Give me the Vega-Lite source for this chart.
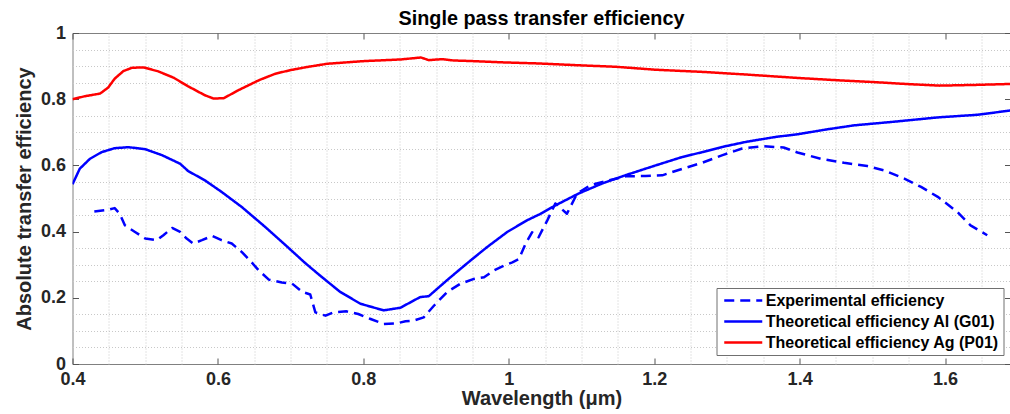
{
  "$schema": "https://vega.github.io/schema/vega-lite/v6.json",
  "width": 938,
  "height": 331,
  "autosize": {"type": "none"},
  "padding": {"left": 72.5, "top": 33, "right": 0, "bottom": 50},
  "background": "white",
  "title": {
    "text": "Single pass transfer efficiency",
    "font": "Liberation Sans",
    "fontSize": 19.8,
    "fontWeight": "bold",
    "color": "#000000",
    "anchor": "middle",
    "baseline": "alphabetic",
    "offset": 7,
    "dy": 28
  },
  "data": {
    "values": [
      {"series": "Experimental efficiency", "x": 0.430, "y": 0.461},
      {"series": "Experimental efficiency", "x": 0.449, "y": 0.466},
      {"series": "Experimental efficiency", "x": 0.458, "y": 0.471},
      {"series": "Experimental efficiency", "x": 0.465, "y": 0.454},
      {"series": "Experimental efficiency", "x": 0.472, "y": 0.419},
      {"series": "Experimental efficiency", "x": 0.486, "y": 0.399},
      {"series": "Experimental efficiency", "x": 0.500, "y": 0.379},
      {"series": "Experimental efficiency", "x": 0.516, "y": 0.374},
      {"series": "Experimental efficiency", "x": 0.525, "y": 0.389},
      {"series": "Experimental efficiency", "x": 0.537, "y": 0.411},
      {"series": "Experimental efficiency", "x": 0.548, "y": 0.399},
      {"series": "Experimental efficiency", "x": 0.557, "y": 0.379},
      {"series": "Experimental efficiency", "x": 0.566, "y": 0.364},
      {"series": "Experimental efficiency", "x": 0.578, "y": 0.374},
      {"series": "Experimental efficiency", "x": 0.592, "y": 0.387},
      {"series": "Experimental efficiency", "x": 0.605, "y": 0.374},
      {"series": "Experimental efficiency", "x": 0.619, "y": 0.364},
      {"series": "Experimental efficiency", "x": 0.633, "y": 0.338},
      {"series": "Experimental efficiency", "x": 0.644, "y": 0.313},
      {"series": "Experimental efficiency", "x": 0.656, "y": 0.283},
      {"series": "Experimental efficiency", "x": 0.670, "y": 0.255},
      {"series": "Experimental efficiency", "x": 0.688, "y": 0.246},
      {"series": "Experimental efficiency", "x": 0.702, "y": 0.243},
      {"series": "Experimental efficiency", "x": 0.716, "y": 0.218},
      {"series": "Experimental efficiency", "x": 0.727, "y": 0.210},
      {"series": "Experimental efficiency", "x": 0.734, "y": 0.156},
      {"series": "Experimental efficiency", "x": 0.748, "y": 0.146},
      {"series": "Experimental efficiency", "x": 0.759, "y": 0.156},
      {"series": "Experimental efficiency", "x": 0.777, "y": 0.159},
      {"series": "Experimental efficiency", "x": 0.793, "y": 0.151},
      {"series": "Experimental efficiency", "x": 0.810, "y": 0.136},
      {"series": "Experimental efficiency", "x": 0.828, "y": 0.121},
      {"series": "Experimental efficiency", "x": 0.846, "y": 0.123},
      {"series": "Experimental efficiency", "x": 0.858, "y": 0.129},
      {"series": "Experimental efficiency", "x": 0.869, "y": 0.131},
      {"series": "Experimental efficiency", "x": 0.883, "y": 0.141},
      {"series": "Experimental efficiency", "x": 0.897, "y": 0.176},
      {"series": "Experimental efficiency", "x": 0.915, "y": 0.217},
      {"series": "Experimental efficiency", "x": 0.933, "y": 0.242},
      {"series": "Experimental efficiency", "x": 0.952, "y": 0.257},
      {"series": "Experimental efficiency", "x": 0.966, "y": 0.262},
      {"series": "Experimental efficiency", "x": 0.979, "y": 0.282},
      {"series": "Experimental efficiency", "x": 0.993, "y": 0.297},
      {"series": "Experimental efficiency", "x": 1.005, "y": 0.307},
      {"series": "Experimental efficiency", "x": 1.014, "y": 0.317},
      {"series": "Experimental efficiency", "x": 1.023, "y": 0.363},
      {"series": "Experimental efficiency", "x": 1.032, "y": 0.398},
      {"series": "Experimental efficiency", "x": 1.041, "y": 0.383},
      {"series": "Experimental efficiency", "x": 1.053, "y": 0.434},
      {"series": "Experimental efficiency", "x": 1.064, "y": 0.485},
      {"series": "Experimental efficiency", "x": 1.080, "y": 0.454},
      {"series": "Experimental efficiency", "x": 1.094, "y": 0.515},
      {"series": "Experimental efficiency", "x": 1.112, "y": 0.540},
      {"series": "Experimental efficiency", "x": 1.129, "y": 0.550},
      {"series": "Experimental efficiency", "x": 1.161, "y": 0.567},
      {"series": "Experimental efficiency", "x": 1.188, "y": 0.568},
      {"series": "Experimental efficiency", "x": 1.211, "y": 0.570},
      {"series": "Experimental efficiency", "x": 1.239, "y": 0.590},
      {"series": "Experimental efficiency", "x": 1.266, "y": 0.608},
      {"series": "Experimental efficiency", "x": 1.294, "y": 0.631},
      {"series": "Experimental efficiency", "x": 1.321, "y": 0.651},
      {"series": "Experimental efficiency", "x": 1.349, "y": 0.658},
      {"series": "Experimental efficiency", "x": 1.378, "y": 0.654},
      {"series": "Experimental efficiency", "x": 1.397, "y": 0.639},
      {"series": "Experimental efficiency", "x": 1.429, "y": 0.620},
      {"series": "Experimental efficiency", "x": 1.461, "y": 0.608},
      {"series": "Experimental efficiency", "x": 1.493, "y": 0.598},
      {"series": "Experimental efficiency", "x": 1.516, "y": 0.585},
      {"series": "Experimental efficiency", "x": 1.544, "y": 0.560},
      {"series": "Experimental efficiency", "x": 1.567, "y": 0.535},
      {"series": "Experimental efficiency", "x": 1.590, "y": 0.505},
      {"series": "Experimental efficiency", "x": 1.617, "y": 0.459},
      {"series": "Experimental efficiency", "x": 1.635, "y": 0.419},
      {"series": "Experimental efficiency", "x": 1.658, "y": 0.389},

      {"series": "Theoretical efficiency Al (G01)", "x": 0.400, "y": 0.543},
      {"series": "Theoretical efficiency Al (G01)", "x": 0.410, "y": 0.590},
      {"series": "Theoretical efficiency Al (G01)", "x": 0.424, "y": 0.620},
      {"series": "Theoretical efficiency Al (G01)", "x": 0.440, "y": 0.640},
      {"series": "Theoretical efficiency Al (G01)", "x": 0.458, "y": 0.652},
      {"series": "Theoretical efficiency Al (G01)", "x": 0.477, "y": 0.655},
      {"series": "Theoretical efficiency Al (G01)", "x": 0.500, "y": 0.649},
      {"series": "Theoretical efficiency Al (G01)", "x": 0.523, "y": 0.631},
      {"series": "Theoretical efficiency Al (G01)", "x": 0.548, "y": 0.605},
      {"series": "Theoretical efficiency Al (G01)", "x": 0.559, "y": 0.583},
      {"series": "Theoretical efficiency Al (G01)", "x": 0.582, "y": 0.555},
      {"series": "Theoretical efficiency Al (G01)", "x": 0.605, "y": 0.520},
      {"series": "Theoretical efficiency Al (G01)", "x": 0.633, "y": 0.474},
      {"series": "Theoretical efficiency Al (G01)", "x": 0.665, "y": 0.414},
      {"series": "Theoretical efficiency Al (G01)", "x": 0.692, "y": 0.361},
      {"series": "Theoretical efficiency Al (G01)", "x": 0.720, "y": 0.305},
      {"series": "Theoretical efficiency Al (G01)", "x": 0.740, "y": 0.268},
      {"series": "Theoretical efficiency Al (G01)", "x": 0.768, "y": 0.218},
      {"series": "Theoretical efficiency Al (G01)", "x": 0.796, "y": 0.182},
      {"series": "Theoretical efficiency Al (G01)", "x": 0.828, "y": 0.162},
      {"series": "Theoretical efficiency Al (G01)", "x": 0.851, "y": 0.170},
      {"series": "Theoretical efficiency Al (G01)", "x": 0.878, "y": 0.202},
      {"series": "Theoretical efficiency Al (G01)", "x": 0.890, "y": 0.205},
      {"series": "Theoretical efficiency Al (G01)", "x": 0.915, "y": 0.253},
      {"series": "Theoretical efficiency Al (G01)", "x": 0.942, "y": 0.303},
      {"series": "Theoretical efficiency Al (G01)", "x": 0.970, "y": 0.353},
      {"series": "Theoretical efficiency Al (G01)", "x": 0.998, "y": 0.399},
      {"series": "Theoretical efficiency Al (G01)", "x": 1.025, "y": 0.434},
      {"series": "Theoretical efficiency Al (G01)", "x": 1.044, "y": 0.454},
      {"series": "Theoretical efficiency Al (G01)", "x": 1.064, "y": 0.479},
      {"series": "Theoretical efficiency Al (G01)", "x": 1.096, "y": 0.515},
      {"series": "Theoretical efficiency Al (G01)", "x": 1.128, "y": 0.545},
      {"series": "Theoretical efficiency Al (G01)", "x": 1.160, "y": 0.570},
      {"series": "Theoretical efficiency Al (G01)", "x": 1.202, "y": 0.600},
      {"series": "Theoretical efficiency Al (G01)", "x": 1.238, "y": 0.625},
      {"series": "Theoretical efficiency Al (G01)", "x": 1.266, "y": 0.640},
      {"series": "Theoretical efficiency Al (G01)", "x": 1.294, "y": 0.656},
      {"series": "Theoretical efficiency Al (G01)", "x": 1.326, "y": 0.671},
      {"series": "Theoretical efficiency Al (G01)", "x": 1.367, "y": 0.686},
      {"series": "Theoretical efficiency Al (G01)", "x": 1.397, "y": 0.694},
      {"series": "Theoretical efficiency Al (G01)", "x": 1.438, "y": 0.709},
      {"series": "Theoretical efficiency Al (G01)", "x": 1.475, "y": 0.721},
      {"series": "Theoretical efficiency Al (G01)", "x": 1.530, "y": 0.732},
      {"series": "Theoretical efficiency Al (G01)", "x": 1.590, "y": 0.745},
      {"series": "Theoretical efficiency Al (G01)", "x": 1.645, "y": 0.753},
      {"series": "Theoretical efficiency Al (G01)", "x": 1.690, "y": 0.766},

      {"series": "Theoretical efficiency Ag (P01)", "x": 0.400, "y": 0.800},
      {"series": "Theoretical efficiency Ag (P01)", "x": 0.417, "y": 0.809},
      {"series": "Theoretical efficiency Ag (P01)", "x": 0.438, "y": 0.817},
      {"series": "Theoretical efficiency Ag (P01)", "x": 0.449, "y": 0.835},
      {"series": "Theoretical efficiency Ag (P01)", "x": 0.458, "y": 0.862},
      {"series": "Theoretical efficiency Ag (P01)", "x": 0.470, "y": 0.885},
      {"series": "Theoretical efficiency Ag (P01)", "x": 0.482, "y": 0.895},
      {"series": "Theoretical efficiency Ag (P01)", "x": 0.498, "y": 0.896},
      {"series": "Theoretical efficiency Ag (P01)", "x": 0.518, "y": 0.884},
      {"series": "Theoretical efficiency Ag (P01)", "x": 0.539, "y": 0.865},
      {"series": "Theoretical efficiency Ag (P01)", "x": 0.559, "y": 0.839},
      {"series": "Theoretical efficiency Ag (P01)", "x": 0.582, "y": 0.812},
      {"series": "Theoretical efficiency Ag (P01)", "x": 0.594, "y": 0.802},
      {"series": "Theoretical efficiency Ag (P01)", "x": 0.608, "y": 0.803},
      {"series": "Theoretical efficiency Ag (P01)", "x": 0.628, "y": 0.827},
      {"series": "Theoretical efficiency Ag (P01)", "x": 0.657, "y": 0.858},
      {"series": "Theoretical efficiency Ag (P01)", "x": 0.679, "y": 0.877},
      {"series": "Theoretical efficiency Ag (P01)", "x": 0.700, "y": 0.888},
      {"series": "Theoretical efficiency Ag (P01)", "x": 0.722, "y": 0.897},
      {"series": "Theoretical efficiency Ag (P01)", "x": 0.750, "y": 0.907},
      {"series": "Theoretical efficiency Ag (P01)", "x": 0.800, "y": 0.915},
      {"series": "Theoretical efficiency Ag (P01)", "x": 0.851, "y": 0.920},
      {"series": "Theoretical efficiency Ag (P01)", "x": 0.879, "y": 0.926},
      {"series": "Theoretical efficiency Ag (P01)", "x": 0.890, "y": 0.918},
      {"series": "Theoretical efficiency Ag (P01)", "x": 0.908, "y": 0.921},
      {"series": "Theoretical efficiency Ag (P01)", "x": 0.924, "y": 0.917},
      {"series": "Theoretical efficiency Ag (P01)", "x": 0.952, "y": 0.915},
      {"series": "Theoretical efficiency Ag (P01)", "x": 0.995, "y": 0.911},
      {"series": "Theoretical efficiency Ag (P01)", "x": 1.041, "y": 0.908},
      {"series": "Theoretical efficiency Ag (P01)", "x": 1.101, "y": 0.902},
      {"series": "Theoretical efficiency Ag (P01)", "x": 1.147, "y": 0.898},
      {"series": "Theoretical efficiency Ag (P01)", "x": 1.202, "y": 0.889},
      {"series": "Theoretical efficiency Ag (P01)", "x": 1.271, "y": 0.882},
      {"series": "Theoretical efficiency Ag (P01)", "x": 1.330, "y": 0.874},
      {"series": "Theoretical efficiency Ag (P01)", "x": 1.399, "y": 0.864},
      {"series": "Theoretical efficiency Ag (P01)", "x": 1.454, "y": 0.857},
      {"series": "Theoretical efficiency Ag (P01)", "x": 1.500, "y": 0.852},
      {"series": "Theoretical efficiency Ag (P01)", "x": 1.546, "y": 0.846},
      {"series": "Theoretical efficiency Ag (P01)", "x": 1.592, "y": 0.841},
      {"series": "Theoretical efficiency Ag (P01)", "x": 1.638, "y": 0.843},
      {"series": "Theoretical efficiency Ag (P01)", "x": 1.690, "y": 0.846}
    ]
  },
  "layer": [
    {
      "mark": {"type": "line", "strokeWidth": 2.5, "strokeJoin": "round", "clip": true},
      "encoding": {
        "x": {
          "field": "x",
          "type": "quantitative",
          "scale": {"domain": [0.4, 1.69], "nice": false, "zero": false},
          "axis": {
            "orient": "bottom",
            "title": "Wavelength (μm)",
            "values": [0.4, 0.45, 0.5, 0.55, 0.6, 0.65, 0.7, 0.75, 0.8, 0.85, 0.9, 0.95, 1, 1.05, 1.1, 1.15, 1.2, 1.25, 1.3, 1.35, 1.4, 1.45, 1.5, 1.55, 1.6, 1.65],
            "labelExpr": "abs(datum.value*5-round(datum.value*5))<0.000001 ? format(datum.value,'~g') : ''",
            "tickOpacity": {"condition": {"test": "abs(datum.value*5-round(datum.value*5))<0.000001", "value": 1}, "value": 0},
            "gridOpacity": {"condition": {"test": "abs(datum.value*5-round(datum.value*5))<0.000001", "value": 0}, "value": 1},
            "tickSize": -6,
            "labelPadding": 12,
            "titlePadding": 0
          }
        },
        "y": {
          "field": "y",
          "type": "quantitative",
          "scale": {"domain": [0, 1], "nice": false, "zero": false},
          "axis": {
            "orient": "left",
            "title": "Absolute transfer efficiency",
            "values": [0, 0.05, 0.1, 0.15, 0.2, 0.25, 0.3, 0.35, 0.4, 0.45, 0.5, 0.55, 0.6, 0.65, 0.7, 0.75, 0.8, 0.85, 0.9, 0.95, 1],
            "labelExpr": "abs(datum.value*5-round(datum.value*5))<0.000001 ? format(datum.value,'~g') : ''",
            "tickOpacity": {"condition": {"test": "abs(datum.value*5-round(datum.value*5))<0.000001", "value": 1}, "value": 0},
            "gridOpacity": {"condition": {"test": "abs(datum.value*5-round(datum.value*5))<0.000001", "value": 0}, "value": 1},
            "tickSize": -6,
            "labelPadding": 13,
            "titlePadding": 6
          }
        },
        "color": {
          "field": "series",
          "type": "nominal",
          "scale": {
            "domain": ["Experimental efficiency", "Theoretical efficiency Al (G01)", "Theoretical efficiency Ag (P01)"],
            "range": ["#0000ff", "#0000ff", "#ff0000"]
          },
          "legend": {"title": null, "orient": "none", "legendX": 644, "legendY": 255}
        },
        "strokeDash": {
          "field": "series",
          "type": "nominal",
          "scale": {
            "domain": ["Experimental efficiency", "Theoretical efficiency Al (G01)", "Theoretical efficiency Ag (P01)"],
            "range": [[10, 6], [1, 0], [1, 0]]
          },
          "legend": {"title": null, "orient": "none", "legendX": 644, "legendY": 255}
        }
      }
    },
    {
      "mark": {"type": "line", "opacity": 0},
      "encoding": {
        "x": {
          "field": "x",
          "type": "quantitative",
          "axis": {
            "orient": "top",
            "title": null,
            "values": [0.4, 0.6, 0.8, 1, 1.2, 1.4, 1.6],
            "labels": false,
            "grid": false,
            "tickSize": -6
          }
        },
        "y": {
          "field": "y",
          "type": "quantitative",
          "axis": {
            "orient": "right",
            "title": null,
            "values": [0, 0.2, 0.4, 0.6, 0.8, 1],
            "labels": false,
            "grid": false,
            "tickSize": -6
          }
        },
        "detail": {"field": "series", "type": "nominal"}
      }
    }
  ],
  "resolve": {"axis": {"x": "independent", "y": "independent"}},
  "config": {
    "view": {"stroke": "#808080", "strokeWidth": 1},
    "axis": {
      "domain": false,
      "grid": true,
      "gridColor": "#c8c8c8",
      "gridDash": [1, 2],
      "gridWidth": 1,
      "tickColor": "#555555",
      "tickWidth": 1,
      "labelFont": "Liberation Sans",
      "labelFontSize": 18,
      "labelFontWeight": "bold",
      "labelColor": "#262626",
      "labelOverlap": false,
      "labelFlush": false,
      "labelBound": false,
      "titleFont": "Liberation Sans",
      "titleFontSize": 20,
      "titleFontWeight": "bold",
      "titleColor": "#262626"
    },
    "legend": {
      "symbolType": "M-4,0L4,0",
      "symbolSize": 90.25,
      "symbolStrokeWidth": 2.5,
      "symbolOffset": 14.25,
      "labelFont": "Liberation Sans",
      "labelFontSize": 16,
      "labelFontWeight": "bold",
      "labelColor": "#000000",
      "labelLimit": 500,
      "labelOffset": 14.5,
      "padding": 4.5,
      "rowPadding": 5,
      "fillColor": "#ffffff",
      "strokeColor": "#707070",
      "cornerRadius": 0
    }
  }
}
